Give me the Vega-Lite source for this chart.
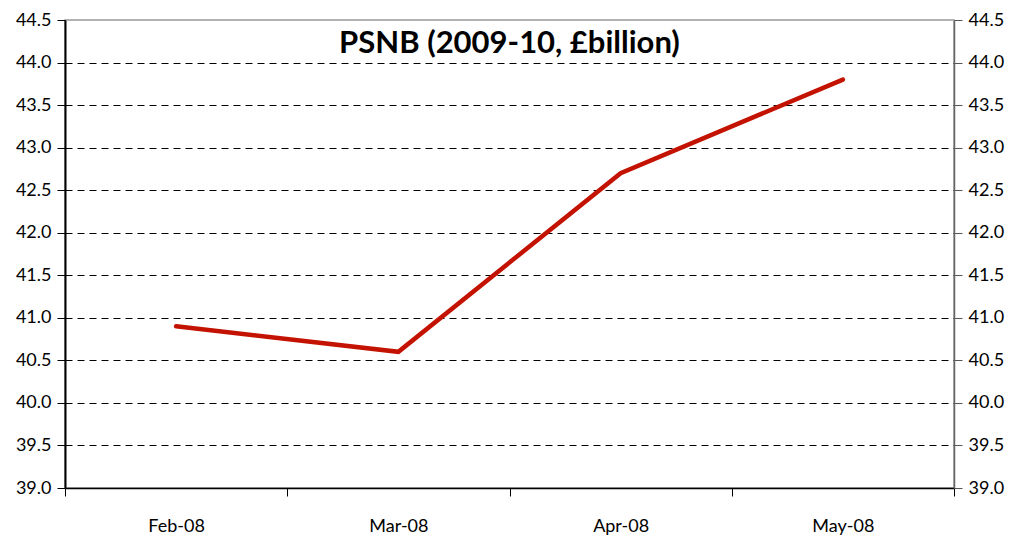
{
  "$schema": "https://vega.github.io/schema/vega-lite/v6.json",
  "width": 889,
  "height": 468,
  "autosize": {"type": "none"},
  "padding": {"left": 65, "top": 20, "right": 59, "bottom": 54},
  "background": "white",
  "config": {
    "font": "Lato",
    "view": {"stroke": "#999999", "strokeWidth": 1.5}
  },
  "title": {
    "text": "PSNB (2009-10, £billion)",
    "font": "Lato",
    "fontSize": 31,
    "fontWeight": "bold",
    "color": "#000000",
    "anchor": "middle",
    "orient": "top",
    "offset": -49
  },
  "data": {
    "values": [
      {"month": "Feb-08", "psnb": 40.9},
      {"month": "Mar-08", "psnb": 40.6},
      {"month": "Apr-08", "psnb": 42.7},
      {"month": "May-08", "psnb": 43.8}
    ]
  },
  "layer": [
    {
      "mark": {"type": "line", "color": "#C41200", "strokeWidth": 4.5, "strokeCap": "round", "strokeJoin": "miter"},
      "encoding": {
        "x": {
          "field": "month", "type": "ordinal", "sort": null,
          "scale": {"type": "band", "paddingInner": 0, "paddingOuter": 0},
          "axis": {
            "title": null, "labelAngle": 0, "tickBand": "extent", "tickSize": 8,
            "tickColor": "#000000", "domainColor": "#000000", "domainWidth": 1.5,
            "labelPadding": 21, "grid": false,
            "labelFont": "Lato", "labelFontSize": 18, "labelColor": "#000000"
          }
        },
        "y": {
          "field": "psnb", "type": "quantitative",
          "scale": {"domain": [39, 44.5], "nice": false, "zero": false},
          "axis": {
            "title": null, "orient": "left",
            "values": [39, 39.5, 40, 40.5, 41, 41.5, 42, 42.5, 43, 43.5, 44, 44.5],
            "format": ".1f", "tickSize": 8, "tickColor": "#000000",
            "labelOverlap": false, "labelFlush": false,
            "labelFont": "Lato", "labelFontSize": 18, "labelColor": "#000000",
            "domainColor": "#000000", "domainWidth": 2, "labelPadding": 6,
            "grid": true, "gridColor": "#000000", "gridDash": [7, 5], "gridWidth": 1,
            "gridOpacity": {"condition": {"test": "datum.value >= 44.5 || datum.value <= 39", "value": 0}, "value": 1}
          }
        }
      }
    },
    {
      "mark": {"type": "line", "opacity": 0},
      "encoding": {
        "x": {"field": "month", "type": "ordinal", "sort": null},
        "y": {
          "field": "psnb", "type": "quantitative",
          "scale": {"domain": [39, 44.5], "nice": false, "zero": false},
          "axis": {
            "title": null, "orient": "right",
            "values": [39, 39.5, 40, 40.5, 41, 41.5, 42, 42.5, 43, 43.5, 44, 44.5],
            "format": ".1f", "tickSize": 8, "tickColor": "#555555",
            "labelOverlap": false, "labelFlush": false,
            "labelFont": "Lato", "labelFontSize": 18, "labelColor": "#000000",
            "domainColor": "#666666", "domainWidth": 1.5, "labelPadding": 6, "grid": false
          }
        }
      }
    }
  ],
  "resolve": {"scale": {"y": "independent"}}
}
